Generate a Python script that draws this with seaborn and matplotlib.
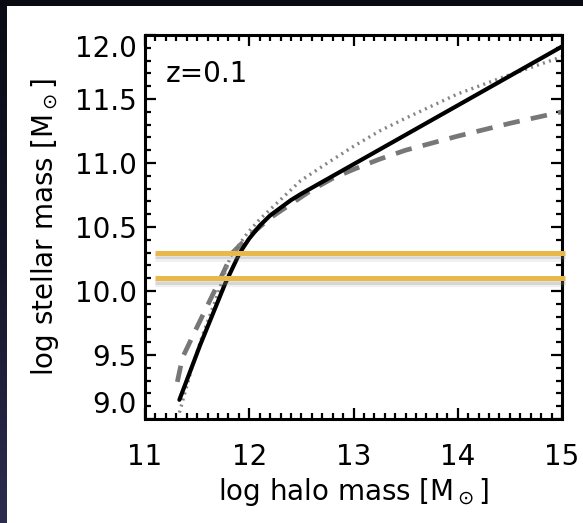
import numpy as np
import pandas as pd
import matplotlib
matplotlib.use("Agg")
import matplotlib.pyplot as plt
import matplotlib.patheffects as pe
from matplotlib.ticker import MultipleLocator
from matplotlib.colors import LinearSegmentedColormap
import seaborn as sns

# ---- data ----
solid_x = [11.33, 11.53, 11.77, 11.91, 12.0, 12.1, 12.2, 12.3, 12.4, 12.5, 13.0, 13.5, 14.0, 14.5, 15.0]
solid_y = [9.15, 9.58, 10.06, 10.30, 10.41, 10.51, 10.59, 10.65, 10.71, 10.76, 10.99, 11.22, 11.45, 11.68, 11.91]

dashed_x = [11.31, 11.36, 11.50, 11.72, 11.84, 12.0, 12.2, 12.4, 12.6, 12.8, 13.0, 13.25, 13.5, 14.0, 14.5, 15.0]
dashed_y = [9.29, 9.48, 9.72, 10.09, 10.30, 10.43, 10.57, 10.68, 10.79, 10.88, 10.95, 11.03, 11.10, 11.21, 11.31, 11.40]

dotted_x = [11.33, 11.45, 11.55, 11.70, 11.82, 11.98, 12.1, 12.27, 12.49, 12.75, 13.0, 13.25, 13.5, 14.0, 14.5, 15.0]
dotted_y = [9.05, 9.40, 9.65, 9.98, 10.27, 10.45, 10.56, 10.69, 10.86, 11.0, 11.13, 11.25, 11.35, 11.54, 11.69, 11.83]

band_levels = [10.3, 10.1]
x_ticks = [11, 12, 13, 14, 15]
y_ticks = [9.0, 9.5, 10.0, 10.5, 11.0, 11.5, 12.0]
y_ticklabels = ["9.0", "9.5", "10.0", "10.5", "11.0", "11.5", "12.0"]
redshift_label = "z=0.1"

sns.set_style("ticks")
plt.rcParams["font.family"] = ["DejaVu Sans"]
plt.rcParams["mathtext.fontset"] = "dejavusans"
plt.rcParams["text.color"] = "black"
plt.rcParams["axes.labelcolor"] = "black"
plt.rcParams["xtick.color"] = "black"
plt.rcParams["ytick.color"] = "black"

W, H = 583, 523
fig = plt.figure(figsize=(W / 100, H / 100), dpi=100, facecolor="white")

# dark slide border (left gradient strip and top strip)
bl = fig.add_axes([0, 0, 7 / W, 1])
grad = np.linspace(0, 1, 256).reshape(-1, 1)
cmap = LinearSegmentedColormap.from_list("bord", ["#0b0b14", "#15152a", "#2c2c50"])
bl.imshow(grad, aspect="auto", cmap=cmap, extent=[0, 1, 0, 1], origin="upper")
bl.set_axis_off()
bt = fig.add_axes([0, 1 - 6 / H, 1, 6 / H])
bt.set_facecolor("#0a0a12")
bt.set_xticks([]); bt.set_yticks([])
for s in bt.spines.values():
    s.set_visible(False)

ax = fig.add_axes([145 / W, 1 - 419 / H, (562 - 145) / W, (419 - 35) / H])

df_solid = pd.DataFrame({"x": solid_x, "y": solid_y})
df_dash = pd.DataFrame({"x": dashed_x, "y": dashed_y})
df_dot = pd.DataFrame({"x": dotted_x, "y": dotted_y})

sns.lineplot(data=df_dash, x="x", y="y", ax=ax, color="#777777", lw=3.4,
             sort=False, estimator=None, linestyle=(0, (3.5, 2.4)), zorder=2)
sns.lineplot(data=df_dot, x="x", y="y", ax=ax, color="#858585", lw=2.4,
             sort=False, estimator=None, linestyle=(0, (0.6, 1.3)), zorder=2)
sns.lineplot(data=df_solid, x="x", y="y", ax=ax, color="black", lw=3.0,
             sort=False, estimator=None, zorder=3)

for lev in band_levels:
    ax.plot([11.095, 15.03], [lev, lev], color="#E8B84A", lw=3.6, clip_on=False,
            solid_capstyle="butt", zorder=5,
            path_effects=[pe.SimpleLineShadow(offset=(0, -2.5), shadow_color="#8a8a8a", alpha=0.25, linewidth=3.6),
                          pe.SimpleLineShadow(offset=(0, -4.5), shadow_color="#8a8a8a", alpha=0.12, linewidth=3.6),
                          pe.Normal()])

ax.set_xlim(11, 15)
ax.set_ylim(9.0, 12.0)
ax.set_xticks(x_ticks)
ax.set_xticklabels([str(v) for v in x_ticks])
ax.set_yticks(y_ticks)
ax.set_yticklabels(y_ticklabels)
ax.xaxis.set_minor_locator(MultipleLocator(0.1))
ax.yaxis.set_minor_locator(MultipleLocator(0.1))
ax.tick_params(which="both", direction="in", top=True, right=True, color="black",
               labelcolor="black", width=1.6)
ax.tick_params(which="major", length=8)
ax.tick_params(which="minor", length=4)
ax.tick_params(axis="x", which="major", labelsize=20, pad=17)
ax.tick_params(axis="y", which="major", labelsize=20, pad=6)
labs = ax.get_yticklabels()
labs[0].set_va("bottom")
labs[-1].set_va("top")
for s in ax.spines.values():
    s.set_linewidth(2.2)
    s.set_color("black")
ax.set_xlabel(r"log halo mass [M$_\odot$]", fontsize=20, labelpad=4, color="black")
ax.set_ylabel(r"log stellar mass [M$_\odot$]", fontsize=20, labelpad=10, color="black")
ax.text(11.2, 11.63, redshift_label, fontsize=20, ha="left", va="baseline", color="black")

fig.savefig("out.png", dpi=100, facecolor="white")
